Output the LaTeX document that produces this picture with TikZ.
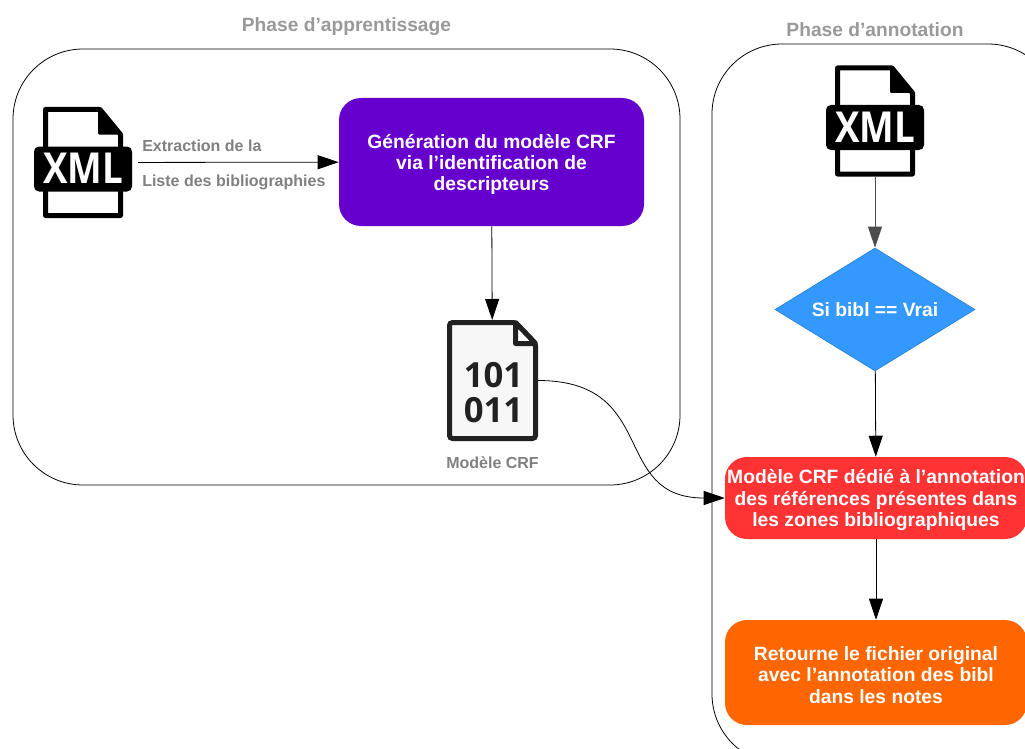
\documentclass[tikz,border=0pt]{standalone}
\usepackage{fontspec}
\setmainfont{Liberation Sans}
\newfontfamily\iconfont{Open Sans}
\usetikzlibrary{positioning}
\usetikzlibrary{arrows.meta}
\usetikzlibrary{shapes.geometric}
\def\px{0.75pt}
\definecolor{mypurple}{HTML}{6600CC}
\definecolor{myblue}{HTML}{3399FF}
\definecolor{myred}{HTML}{FF3333}
\definecolor{myorange}{HTML}{FF6600}
\tikzset{
    panel/.style={draw=black,line width=0.6pt,inner sep=0pt,rounded corners=70*\px},
    phasetitle/.style={text=black!40,font=\bfseries\fontsize{14.4}{16}\selectfont,inner sep=0pt},
    greylabel/.style={text=black!50,font=\bfseries\fontsize{12}{14}\selectfont,inner sep=0pt},
    stepbox/.style={rounded corners=22*\px,text=white,align=center,inner sep=0pt,
        font=\bfseries\fontsize{14.45}{16}\selectfont,
        execute at begin node={\rule{0pt}{46pt}}},
    icon/.style={inner sep=0pt,outer sep=0pt},
    link/.style={draw=black,line width=0.6pt,-{Triangle[length=21*\px,width=14*\px]}},
    pics/xmlfile/.style={code={
        \draw[black,line width=5*\px,line join=round,fill=white]
            (-37.5,-53) -- (17,-53) -- (37.5,-28) -- (37.5,53) -- (-37.5,53) -- cycle;
        \fill[black,rounded corners=1*\px] (15,-55) -- (40,-28) -- (15,-28) -- cycle;
        \fill[black,rounded corners=5*\px] (-49,-16) rectangle (49,29);
        \node[text=white,inner sep=0pt,font=\iconfont\bfseries\fontsize{32}{32}\selectfont] at (0,6) {\scalebox{0.86}[1]{XML}};
    }},
    pics/binfile/.style={code={
        \draw[black!87,line width=5*\px,rounded corners=3*\px,fill=black!3]
            (-43,-58) -- (23,-58) -- (43,-37) -- (43,58) -- (-43,58) -- cycle;
        \draw[black!87,line width=5*\px,line join=round,fill=white]
            (23,-58) -- (23,-37) -- (43,-37) -- cycle;
        \node[text=black!87,inner sep=0pt,align=center,
            font=\iconfont\bfseries\fontsize{26}{26.5}\selectfont] at (1,12) {101\\011};
    }},
}
\begin{document}
\begin{tikzpicture}[x=\px,y=-\px]
    \clip (0,0) rectangle (1025,749);
    \node[panel,minimum width=667*\px,minimum height=436*\px] (learn) at (346.5,267) {};
    \node[panel,minimum width=346*\px,minimum height=720*\px] (annotate) at (885,404) {};
    \node[phasetitle] (learntitle) at (346.5,27) {Phase d’apprentissage};
    \node[phasetitle] (annotatetitle) at (875,30) {Phase d’annotation};

    \node[icon,minimum width=110*\px,minimum height=111*\px] (xmlA) at (83,162.5) {};
    \pic at (xmlA) {xmlfile};
    \node[stepbox,fill=mypurple,minimum width=305*\px,minimum height=128*\px] (crf) at (491.5,162)
        {Génération du modèle CRF\\via l’identification de\\descripteurs};
    \node[icon,minimum width=91*\px,minimum height=121*\px] (model) at (492.5,380.5) {};
    \pic at (model) {binfile};
    \node[greylabel,below=15*\px of model] (modeltext) {Modèle CRF};
    \node[greylabel,anchor=west] (extract) at (142,146) {Extraction de la};
    \node[greylabel,anchor=west] (liste) at (142,182) {Liste des bibliographies};

    \node[icon,minimum width=110*\px,minimum height=111*\px] (xmlB) at (875,121) {};
    \pic at (xmlB) {xmlfile};
    \node[diamond,draw=myblue!85!black,line width=0.5pt,fill=myblue,text=white,inner sep=0pt,aspect=1.63,
        minimum width=200*\px,minimum height=123*\px,
        font=\bfseries\fontsize{14.45}{16}\selectfont] (test) at (875,309.5) {Si bibl == Vrai};
    \node[stepbox,fill=myred,minimum width=302*\px,minimum height=82*\px] (annot) at (876,498)
        {Modèle CRF dédié à l’annotation\\des références présentes dans\\les zones bibliographiques};
    \node[stepbox,fill=myorange,minimum width=302*\px,minimum height=105*\px] (result) at (876,672.5)
        {Retourne le fichier original\\avec l’annotation des bibl\\dans les notes};

    \draw[link] (xmlA) -- (crf);
    \draw[link] (crf) -- (model);
    \draw[link] (model.east) .. controls +(122,0) and +(-115,0) .. (annot.west);
    \draw[link,draw=black!70] (xmlB) -- (test);
    \draw[link] (test) -- (annot);
    \draw[link] (annot) -- (result);
\end{tikzpicture}
\end{document}
